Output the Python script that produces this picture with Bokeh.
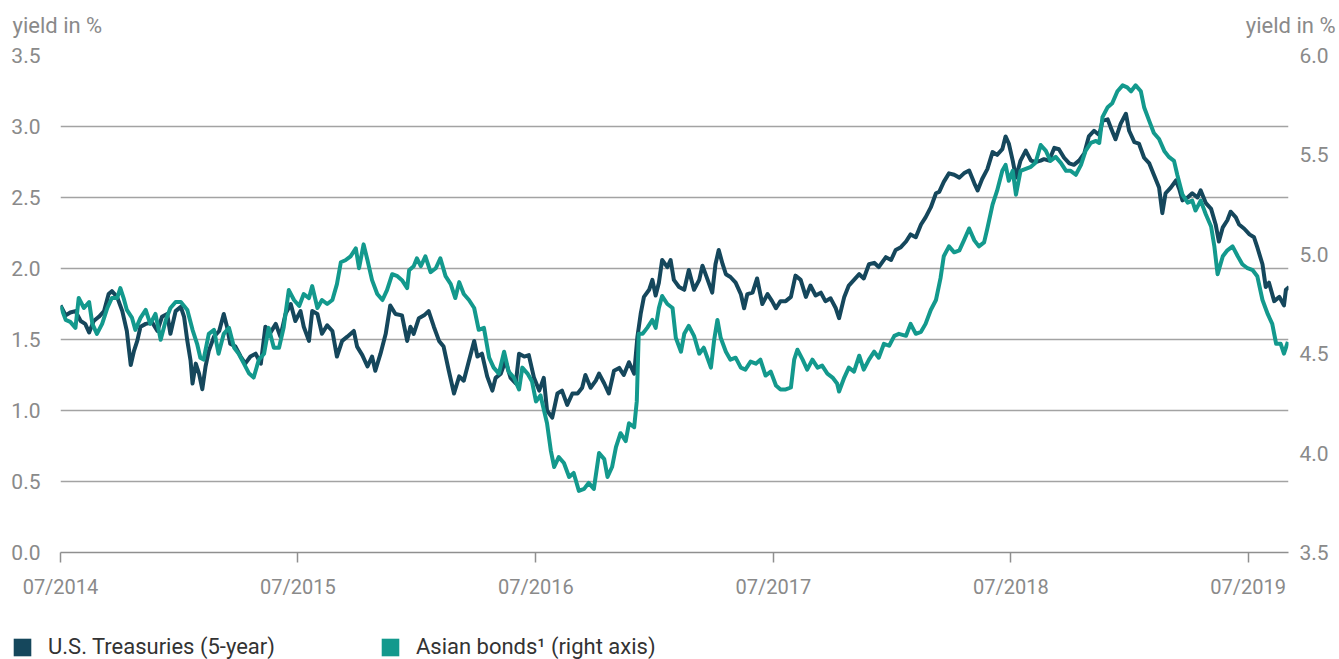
import pandas as pd
from bokeh.plotting import figure
from bokeh.layouts import column
from bokeh.models import (Range1d, LinearAxis, FixedTicker, DatetimeTickFormatter,
                          PrintfTickFormatter, Label, Legend, LegendItem)
from bokeh.embed import file_html
from bokeh.resources import INLINE

START = "2014-07-01"

# days after 2014-07-01 / yield in % (left axis)
us_days = [
    0, 8, 15, 23, 31, 38, 44, 51, 59, 67,
    74, 79, 87, 95, 102, 108, 113, 118, 123, 131,
    141, 149, 156, 164, 169, 177, 185, 190, 195, 200,
    203, 208, 213, 218, 223, 228, 236, 244, 251, 256,
    261, 269, 277, 284, 292, 300, 308, 315, 323, 331,
    338, 346, 354, 361, 369, 374, 382, 387, 395, 402,
    410, 418, 425, 433, 441, 451, 456, 464, 472, 479,
    484, 492, 500, 507, 515, 525, 533, 538, 543, 551,
    559, 566, 574, 582, 589, 597, 605, 613, 620, 628,
    636, 641, 648, 656, 664, 669, 677, 684, 692, 700,
    705, 713, 720, 728, 736, 743, 748, 756, 764, 771,
    779, 787, 795, 802, 807, 815, 823, 828, 836, 843,
    851, 859, 866, 874, 882, 887, 892, 897, 905, 910,
    915, 920, 925, 933, 938, 943, 951, 959, 966, 974,
    982, 987, 995, 1002, 1007, 1012, 1018, 1023, 1030, 1038,
    1046, 1051, 1056, 1064, 1071, 1079, 1087, 1094, 1100, 1107,
    1115, 1123, 1130, 1138, 1146, 1153, 1161, 1169, 1176, 1184,
    1192, 1197, 1205, 1212, 1220, 1228, 1235, 1243, 1251, 1258,
    1269, 1277, 1284, 1292, 1300, 1307, 1315, 1323, 1330, 1338,
    1346, 1351, 1358, 1366, 1374, 1382, 1389, 1397, 1405, 1410,
    1417, 1425, 1433, 1440, 1448, 1453, 1458, 1464, 1469, 1476,
    1484, 1492, 1499, 1507, 1512, 1520, 1528, 1535, 1543, 1551,
    1558, 1566, 1574, 1581, 1589, 1597, 1602, 1610, 1615, 1622,
    1630, 1638, 1643, 1651, 1658, 1666, 1674, 1681, 1689, 1694,
    1699, 1707, 1715, 1720, 1725, 1733, 1740, 1748, 1753, 1761,
    1769, 1776, 1781, 1787, 1794, 1799, 1807, 1812, 1820, 1828,
    1835, 1840, 1848, 1853, 1858, 1866, 1874, 1881, 1884, 1889,
]
us_yield = [
    1.74, 1.67, 1.69, 1.70, 1.63, 1.61, 1.55, 1.63, 1.66, 1.70,
    1.82, 1.84, 1.80, 1.70, 1.56, 1.32, 1.42, 1.49, 1.59, 1.61,
    1.62, 1.56, 1.66, 1.68, 1.54, 1.70, 1.73, 1.66, 1.49, 1.35,
    1.19, 1.33, 1.26, 1.15, 1.31, 1.42, 1.52, 1.56, 1.68, 1.59,
    1.47, 1.45, 1.38, 1.33, 1.38, 1.40, 1.33, 1.59, 1.55, 1.61,
    1.52, 1.68, 1.75, 1.63, 1.70, 1.59, 1.49, 1.70, 1.68, 1.54,
    1.60, 1.56, 1.38, 1.49, 1.52, 1.56, 1.45, 1.39, 1.31, 1.38,
    1.28, 1.40, 1.54, 1.74, 1.68, 1.67, 1.49, 1.59, 1.54, 1.65,
    1.67, 1.70, 1.59, 1.49, 1.45, 1.28, 1.12, 1.24, 1.21, 1.35,
    1.49, 1.38, 1.40, 1.24, 1.14, 1.23, 1.26, 1.35, 1.23, 1.19,
    1.40, 1.38, 1.39, 1.23, 1.14, 1.23, 1.00, 0.95, 1.12, 1.14,
    1.04, 1.12, 1.12, 1.16, 1.25, 1.16, 1.21, 1.26, 1.19, 1.12,
    1.28, 1.30, 1.25, 1.34, 1.26, 1.52, 1.68, 1.80, 1.85, 1.92,
    1.81, 1.90, 2.06, 2.01, 2.06, 1.92, 1.87, 1.85, 1.99, 1.85,
    1.92, 2.02, 1.92, 1.83, 2.03, 2.13, 2.03, 1.96, 1.94, 1.90,
    1.82, 1.72, 1.82, 1.83, 1.93, 1.75, 1.82, 1.77, 1.72, 1.77,
    1.77, 1.80, 1.95, 1.92, 1.80, 1.88, 1.81, 1.83, 1.77, 1.79,
    1.72, 1.65, 1.80, 1.88, 1.92, 1.96, 1.93, 2.03, 2.04, 2.01,
    2.08, 2.06, 2.13, 2.15, 2.19, 2.24, 2.22, 2.31, 2.36, 2.43,
    2.53, 2.54, 2.61, 2.67, 2.66, 2.64, 2.67, 2.69, 2.60, 2.55,
    2.63, 2.70, 2.82, 2.80, 2.84, 2.93, 2.88, 2.76, 2.64, 2.76,
    2.83, 2.76, 2.75, 2.76, 2.77, 2.76, 2.85, 2.84, 2.78, 2.74,
    2.73, 2.76, 2.81, 2.93, 2.97, 2.94, 3.04, 3.05, 2.99, 2.91,
    3.02, 3.09, 2.97, 2.89, 2.88, 2.78, 2.74, 2.66, 2.57, 2.39,
    2.53, 2.57, 2.62, 2.56, 2.48, 2.50, 2.53, 2.50, 2.55, 2.46,
    2.42, 2.31, 2.19, 2.29, 2.34, 2.40, 2.36, 2.31, 2.28, 2.24,
    2.22, 2.15, 2.03, 1.87, 1.90, 1.77, 1.80, 1.74, 1.85, 1.87,
]

# days after 2014-07-01 / yield in % (right axis)
asia_days = [
    0, 8, 15, 23, 28, 36, 44, 49, 56, 64,
    72, 79, 87, 92, 97, 102, 110, 115, 123, 131,
    138, 146, 154, 162, 169, 177, 185, 195, 203, 210,
    215, 220, 228, 236, 243, 251, 259, 267, 274, 282,
    290, 297, 305, 313, 320, 328, 336, 343, 351, 359,
    367, 374, 382, 387, 395, 402, 410, 418, 425, 431,
    438, 446, 454, 459, 466, 472, 479, 487, 495, 502,
    510, 518, 525, 533, 536, 543, 548, 554, 561, 569,
    577, 584, 592, 600, 607, 613, 620, 628, 636, 643,
    651, 659, 666, 674, 682, 689, 697, 705, 710, 718,
    725, 731, 738, 743, 748, 754, 759, 766, 774, 782,
    789, 797, 805, 812, 820, 828, 836, 841, 848, 854,
    861, 869, 874, 882, 886, 889, 895, 902, 910, 915,
    920, 925, 933, 941, 946, 954, 959, 966, 974, 982,
    989, 1000, 1005, 1010, 1015, 1023, 1030, 1038, 1046, 1053,
    1061, 1069, 1076, 1084, 1092, 1100, 1107, 1115, 1123, 1128,
    1133, 1141, 1148, 1156, 1164, 1171, 1179, 1187, 1194, 1197,
    1205, 1212, 1220, 1228, 1235, 1243, 1251, 1258, 1266, 1274,
    1282, 1289, 1300, 1307, 1315, 1323, 1330, 1338, 1346, 1353,
    1358, 1366, 1374, 1382, 1389, 1397, 1405, 1412, 1420, 1425,
    1433, 1440, 1448, 1453, 1458, 1464, 1469, 1476, 1484, 1492,
    1499, 1507, 1515, 1522, 1530, 1538, 1546, 1553, 1561, 1569,
    1576, 1584, 1592, 1597, 1602, 1610, 1617, 1625, 1633, 1640,
    1646, 1653, 1661, 1666, 1674, 1681, 1689, 1697, 1704, 1712,
    1717, 1725, 1733, 1740, 1745, 1753, 1761, 1769, 1774, 1779,
    1787, 1794, 1802, 1810, 1817, 1825, 1833, 1840, 1848, 1856,
    1863, 1869, 1876, 1881, 1887,
]
asia_yield = [
    4.74, 4.67, 4.66, 4.63, 4.78, 4.73, 4.76, 4.65, 4.60, 4.65,
    4.73, 4.78, 4.78, 4.83, 4.78, 4.72, 4.68, 4.62, 4.68, 4.72,
    4.65, 4.70, 4.57, 4.67, 4.73, 4.76, 4.76, 4.72, 4.62, 4.55,
    4.48, 4.47, 4.60, 4.62, 4.50, 4.60, 4.63, 4.53, 4.50, 4.45,
    4.40, 4.38, 4.47, 4.50, 4.63, 4.53, 4.53, 4.63, 4.82, 4.77,
    4.74, 4.80, 4.78, 4.84, 4.73, 4.77, 4.75, 4.77, 4.85, 4.96,
    4.97, 4.99, 5.03, 4.93, 5.05, 4.97, 4.87, 4.80, 4.77, 4.82,
    4.90, 4.89, 4.87, 4.83, 4.92, 4.94, 4.98, 4.94, 4.99, 4.91,
    4.93, 4.98, 4.89, 4.85, 4.78, 4.86, 4.80, 4.77, 4.73, 4.62,
    4.63, 4.48, 4.43, 4.40, 4.51, 4.41, 4.38, 4.32, 4.43, 4.40,
    4.36, 4.26, 4.29, 4.22, 4.15, 4.01, 3.93, 3.98, 3.95, 3.88,
    3.90, 3.81, 3.82, 3.85, 3.82, 4.00, 3.97, 3.88, 3.93, 4.03,
    4.10, 4.06, 4.15, 4.13, 4.26, 4.60, 4.60, 4.63, 4.67, 4.63,
    4.73, 4.79, 4.75, 4.73, 4.58, 4.51, 4.60, 4.64, 4.59, 4.50,
    4.53, 4.43, 4.57, 4.67, 4.58, 4.51, 4.47, 4.48, 4.43, 4.42,
    4.46, 4.45, 4.47, 4.39, 4.41, 4.34, 4.32, 4.32, 4.33, 4.47,
    4.52, 4.47, 4.42, 4.47, 4.43, 4.44, 4.40, 4.38, 4.35, 4.31,
    4.38, 4.43, 4.41, 4.49, 4.42, 4.47, 4.51, 4.48, 4.55, 4.54,
    4.59, 4.60, 4.59, 4.65, 4.60, 4.61, 4.65, 4.72, 4.77, 4.88,
    4.99, 5.04, 5.01, 5.02, 5.07, 5.13, 5.07, 5.04, 5.06, 5.13,
    5.25, 5.32, 5.42, 5.45, 5.37, 5.42, 5.30, 5.42, 5.43, 5.44,
    5.46, 5.55, 5.52, 5.47, 5.49, 5.46, 5.42, 5.42, 5.40, 5.45,
    5.52, 5.56, 5.57, 5.56, 5.69, 5.74, 5.76, 5.82, 5.85, 5.84,
    5.82, 5.85, 5.82, 5.74, 5.67, 5.61, 5.58, 5.52, 5.49, 5.47,
    5.40, 5.30, 5.26, 5.27, 5.22, 5.27, 5.20, 5.14, 5.04, 4.90,
    4.99, 5.02, 5.04, 4.99, 4.95, 4.93, 4.92, 4.89, 4.77, 4.70,
    4.65, 4.55, 4.55, 4.50, 4.56,
]

left_ticks = [0.0, 0.5, 1.0, 1.5, 2.0, 2.5, 3.0, 3.5]
right_ticks = [3.5, 4.0, 4.5, 5.0, 5.5, 6.0]
x_tick_dates = ["2014-07-01", "2015-07-01", "2016-07-01", "2017-07-01", "2018-07-01", "2019-07-01"]
series_names = ["U.S. Treasuries (5-year)", "Asian bonds\u00b9 (right axis)"]
axis_title = "yield in %"

DARK = "#15475c"
TEAL = "#13998d"
GRID = "#a3a3a3"
TXT = "#8a8a8a"
FONT = "Roboto"
W = 1339
NAN = float("nan")


def no_align(f):
    if "frame_align" in f.properties():
        f.frame_align = False
    return f


def strip(height):
    f = figure(width=W, height=height, x_range=Range1d(0, W), y_range=Range1d(0, height),
               min_border=0, toolbar_location=None, output_backend="svg",
               x_axis_location=None, y_axis_location=None)
    f.outline_line_color = None
    f.background_fill_color = "white"
    f.border_fill_color = "white"
    f.grid.visible = False
    return no_align(f)


# ---- top strip: axis titles ----
top = strip(40)
top.add_layout(Label(x=12, y=15, text=axis_title, text_baseline="middle", text_align="left",
                     text_font=FONT, text_font_size="22px", text_color=TXT))
top.add_layout(Label(x=1335, y=15, text=axis_title, text_baseline="middle", text_align="right",
                     text_font=FONT, text_font_size="22px", text_color=TXT))

# ---- main chart ----
t0 = pd.Timestamp(START)
us_x = t0 + pd.to_timedelta(us_days, unit="D")
asia_x = t0 + pd.to_timedelta(asia_days, unit="D")

p = figure(width=W, height=585, x_axis_type="datetime",
           x_range=Range1d(pd.Timestamp("2014-07-01"), pd.Timestamp("2019-09-01")),
           y_range=Range1d(0, 3.5),
           output_backend="svg", toolbar_location=None,
           min_border_left=60, min_border_right=51, min_border_top=15, min_border_bottom=73)
no_align(p)
p.extra_y_ranges = {"right": Range1d(3.5, 6.0)}
p.outline_line_color = None
p.background_fill_color = "white"
p.border_fill_color = "white"

tick_ms = [pd.Timestamp(d).value // 10**6 for d in x_tick_dates]
xa = p.xaxis[0]
xa.ticker = FixedTicker(ticks=tick_ms)
xa.formatter = DatetimeTickFormatter(years="%m/%Y", months="%m/%Y", days="%m/%Y",
                                     hours="%m/%Y", minutes="%m/%Y")
xa.axis_line_color = "#8f8f8f"
xa.axis_line_width = 1.5
xa.major_tick_line_color = "#8f8f8f"
xa.major_tick_line_width = 1.5
xa.major_tick_out = 10
xa.major_tick_in = 0
xa.minor_tick_line_color = None
xa.major_label_text_font = FONT
xa.major_label_text_font_size = "20px"
xa.major_label_text_color = TXT
xa.major_label_standoff = 12

ya = p.yaxis[0]
ya.ticker = FixedTicker(ticks=left_ticks)
ya.formatter = PrintfTickFormatter(format="%.1f")
ya.axis_line_color = None
ya.major_tick_line_color = None
ya.minor_tick_line_color = None
ya.major_label_text_font = FONT
ya.major_label_text_font_size = "21px"
ya.major_label_text_color = TXT
ya.major_label_standoff = 14

ra = LinearAxis(y_range_name="right", ticker=FixedTicker(ticks=right_ticks),
                formatter=PrintfTickFormatter(format="%.1f"))
ra.axis_line_color = None
ra.major_tick_line_color = None
ra.minor_tick_line_color = None
ra.major_label_text_font = FONT
ra.major_label_text_font_size = "21px"
ra.major_label_text_color = TXT
ra.major_label_standoff = 5
p.add_layout(ra, "right")

p.xgrid.grid_line_color = None
p.ygrid.ticker = FixedTicker(ticks=left_ticks[1:])
p.ygrid.grid_line_color = GRID
p.ygrid.grid_line_width = 1.5

p.line(us_x, us_yield, line_color=DARK, line_width=4, line_join="round")
p.line(asia_x, asia_yield, line_color=TEAL, line_width=4, line_join="round",
       y_range_name="right")

# ---- bottom strip: legend ----
bot = strip(34)
# swatch renderers: NaN coordinates, so they draw no marks themselves
r1 = bot.quad(left=[NAN], right=[NAN], top=[NAN], bottom=[NAN], fill_color=DARK, line_color=None)
r2 = bot.quad(left=[NAN], right=[NAN], top=[NAN], bottom=[NAN], fill_color=TEAL, line_color=None)
legend = Legend(items=[LegendItem(label=series_names[0], renderers=[r1]),
                       LegendItem(label=series_names[1], renderers=[r2])],
                location=(11, 0), orientation="horizontal",
                glyph_width=22, glyph_height=22, label_standoff=15, spacing=104,
                label_width=226, padding=0, margin=0, border_line_color=None,
                background_fill_alpha=0, label_text_font=FONT, label_text_font_size="22px",
                label_text_color="#333333", label_height=20)
bot.add_layout(legend)

layout = column(top, p, bot, spacing=0)
open("out.html", "w").write(file_html(layout, INLINE))
